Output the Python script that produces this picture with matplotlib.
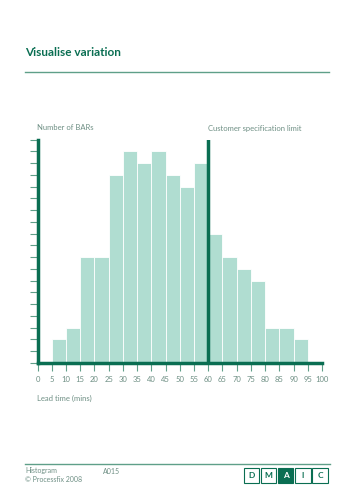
import matplotlib
matplotlib.use("Agg")
import matplotlib.pyplot as plt
from matplotlib.patches import Rectangle
from matplotlib.lines import Line2D

# histogram data (lead time bins in minutes, number of BARs)
bin_starts = [0, 5, 10, 15, 20, 25, 30, 35, 40, 45, 50, 55, 60, 65, 70, 75, 80, 85, 90, 95]
counts = [0, 2, 3, 9, 9, 16, 18, 17, 18, 16, 15, 17, 11, 9, 8, 7, 3, 3, 2, 0]
x_ticks = list(range(0, 101, 5))
spec_limit = 60
dmaic = ["D", "M", "A", "I", "C"]
active_phase = "A"

DARK = "#0a6e52"
LINE = "#5f9f89"
BAR = "#b0ddd1"
TXT = "#6e8f84"

plt.rcParams['font.family'] = ['Lato', 'DejaVu Sans']

W, H = 355, 500
fig = plt.figure(figsize=(W / 100, H / 100), dpi=100)

def fx(px):
    return px / W

def fy(py):
    return 1 - py / H

# title and rule
fig.text(fx(25), fy(53), "Visualise variation", fontsize=8.5, fontweight="bold",
         color=DARK, va="center", ha="left")
fig.add_artist(Line2D([fx(25), fx(329)], [fy(72), fy(72)], color=LINE, lw=1.0))

# main axes
ax = fig.add_axes([fx(37.5), fy(363), fx(322) - fx(37.5), fy(139.5) - fy(363)])
ax.bar(bin_starts, counts, width=5, align="edge", color=BAR, edgecolor="white", linewidth=0.6)
ax.axvline(spec_limit, ymin=0, ymax=1, color=DARK, lw=2.5)
ax.set_xlim(0, 100)
ax.set_ylim(0, 19)
for s in ["top", "right"]:
    ax.spines[s].set_visible(False)
for s in ["left", "bottom"]:
    ax.spines[s].set_color(DARK)
    ax.spines[s].set_linewidth(2.5)
ax.set_xticks(x_ticks)
ax.set_xticklabels([str(t) for t in x_ticks])
ax.set_yticks(range(0, 20))
ax.set_yticklabels([])
ax.tick_params(axis="y", direction="out", length=6, width=0.8, color=LINE, pad=2)
ax.tick_params(axis="x", direction="out", length=6, width=0.8, color=LINE,
               labelsize=5.5, labelcolor=TXT, pad=3)

fig.text(fx(37), fy(128), "Number of BARs", fontsize=5.5, color=TXT, va="center", ha="left")
fig.text(fx(208), fy(128), "Customer specification limit", fontsize=5.5, color=TXT,
         va="center", ha="left")
fig.text(fx(37), fy(398), "Lead time (mins)", fontsize=5.5, color=TXT, va="center", ha="left")

# footer
fig.add_artist(Line2D([fx(25), fx(330)], [fy(464), fy(464)], color=LINE, lw=1.0))
fig.text(fx(25), fy(471), "Histogram", fontsize=5, color=TXT, va="center", ha="left")
fig.text(fx(25), fy(480), "\u00a9 Processfix 2008", fontsize=5, color=TXT, va="center", ha="left")
fig.text(fx(103), fy(471), "A015", fontsize=5, color=TXT, va="center", ha="left")

box_w, gap = 15.5, 1.7
x0 = 243.5
for i, letter in enumerate(dmaic):
    bx = x0 + i * (box_w + gap)
    filled = letter == active_phase
    fig.add_artist(Rectangle((fx(bx), fy(483)), fx(box_w), fy(468) - fy(483),
                             facecolor=DARK if filled else "white",
                             edgecolor=DARK, lw=0.8))
    fig.text(fx(bx + box_w / 2), fy(475.5), letter, fontsize=6, fontweight="bold",
             color="white" if filled else DARK, ha="center", va="center")

fig.savefig("out.png", dpi=100)
